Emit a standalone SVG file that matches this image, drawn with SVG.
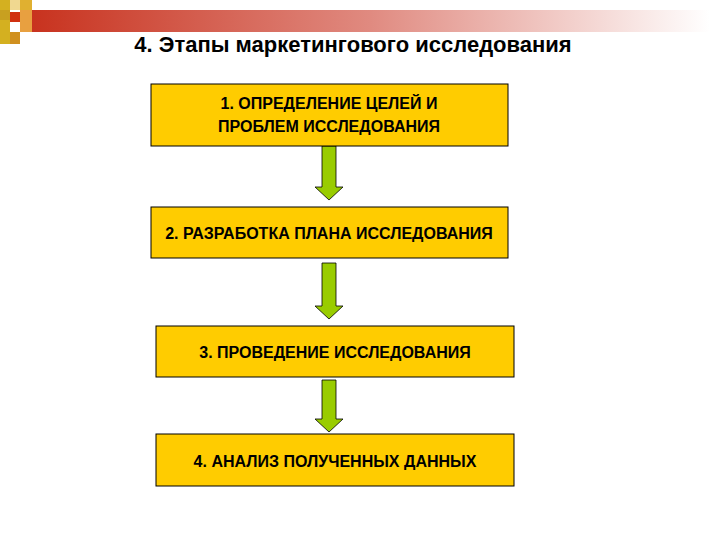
<svg xmlns="http://www.w3.org/2000/svg" width="720" height="540" viewBox="0 0 720 540">
<defs>
<linearGradient id="band" x1="0" x2="1" y1="0" y2="0">
<stop offset="0" stop-color="#c8321e"/><stop offset="0.5" stop-color="#e08a80"/><stop offset="1" stop-color="#ffffff"/>
</linearGradient>
<style>
.box{fill:#ffcc00;stroke:#000;stroke-width:1}
.t{font-family:"Liberation Sans",Arial,sans-serif;font-weight:bold;font-size:16px;fill:#000;text-anchor:middle}
.arr{fill:#99cc00;stroke:#000;stroke-width:0.8}
</style>
</defs>
<rect width="720" height="540" fill="#fff"/>
<g id="decor">
<rect x="30" y="10" width="680" height="22" fill="url(#band)"/>
<rect x="0" y="0" width="10" height="44" fill="#d4b020"/>
<rect x="10" y="0" width="10" height="10" fill="#f0d890"/>
<rect x="20" y="0" width="12" height="10" fill="#e0b030"/>
<rect x="0" y="10" width="10" height="10" fill="#c8a020"/>
<rect x="10" y="12" width="10" height="10" fill="#d03010"/>
<rect x="20" y="10" width="12" height="22" fill="#e8a040"/>
<rect x="10" y="32" width="10" height="12" fill="#d09020"/>
</g>
<text x="353" y="52" font-family="'Liberation Sans',Arial,sans-serif" font-weight="bold" font-size="22" text-anchor="middle">4. Этапы маркетингового исследования</text>
<g id="connectors">
<polygon class="arr" points="322,146 336,146 336,187 343,187 329,200 315,187 322,187"/>
<polygon class="arr" points="322,263 336,263 336,306 343,306 329,319 315,306 322,306"/>
<polygon class="arr" points="322,380 336,380 336,419 343,419 329,432 315,419 322,419"/>
</g>
<g id="n1"><rect class="box" x="151" y="84" width="357" height="62"/>
<text class="t" x="329" y="109">1. ОПРЕДЕЛЕНИЕ ЦЕЛЕЙ И</text><text class="t" x="329" y="132">ПРОБЛЕМ ИССЛЕДОВАНИЯ</text></g>
<g id="n2"><rect class="box" x="151" y="207" width="357" height="51"/>
<text class="t" x="329" y="239">2. РАЗРАБОТКА ПЛАНА ИССЛЕДОВАНИЯ</text></g>
<g id="n3"><rect class="box" x="156" y="326" width="358" height="51"/>
<text class="t" x="335" y="358">3. ПРОВЕДЕНИЕ ИССЛЕДОВАНИЯ</text></g>
<g id="n4"><rect class="box" x="156" y="434" width="358" height="52"/>
<text class="t" x="335" y="467">4. АНАЛИЗ ПОЛУЧЕННЫХ ДАННЫХ</text></g>
</svg>
